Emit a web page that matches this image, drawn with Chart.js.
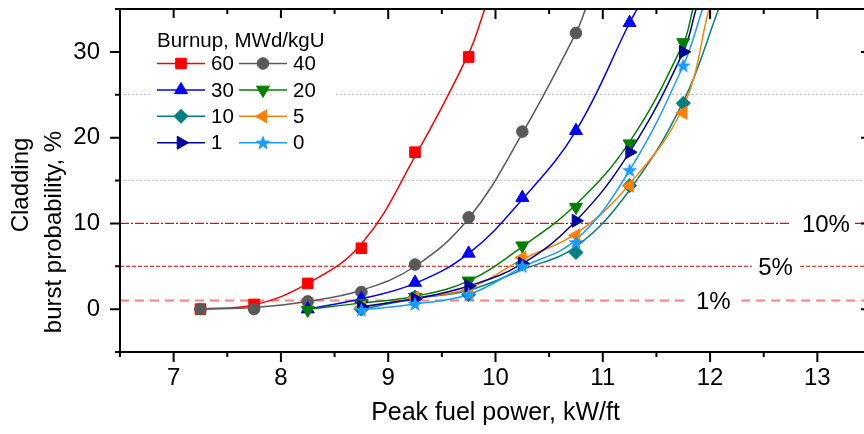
<!DOCTYPE html>
<html lang="en">
<head>
<meta charset="UTF-8">
<title>Cladding burst probability</title>
<script src="https://cdn.jsdelivr.net/npm/chart.js"></script>
<style>
  html, body { margin: 0; padding: 0; overflow: hidden; background: #fff; }
  canvas { display: block; }
</style>
</head>
<body>
<canvas id="burstChart" width="880" height="434"></canvas>
<script>
// peak fuel power of the test points, kW/ft
const power = [7.25, 7.75, 8.25, 8.75, 9.25, 9.75, 10.25, 10.75, 11.25, 11.75];

// burst probability, %, one list per burnup (MWd/kgU)
const bu60 = [0, 0.55, 3.0, 7.1, 18.3, 29.4, null, null, null, null];
const bu40 = [0, 0, 0.9, 2.0, 5.2, 10.7, 20.7, 32.2, null, null];
const bu30 = [null, null, 0, 1.2, 3.1, 6.5, 13.0, 20.8, 33.4, null];
const bu20 = [null, null, -0.1, 0.7, 1.4, 3.3, 7.4, 11.9, 19.3, 31.1];
const bu10 = [null, null, null, 0, 1.4, 1.7, 5.3, 6.6, 14.4, 24.0];
const bu5  = [null, null, null, 0.2, 1.3, 2.2, 6.0, 8.6, 14.4, 22.9];
const bu1  = [null, null, null, 0.3, 1.2, 2.7, 5.3, 10.3, 18.3, 30.0];
const bu0  = [null, null, null, -0.1, 0.6, 1.7, 5.0, 7.8, 16.2, 28.4];

// fitted curves (last point = where it leaves the top)
const fit60x = [7.25, 7.75, 8.25, 8.75, 9.25, 9.75, 9.9];
const fit60y = [0, 0.5, 3.0, 7.6, 17.8, 29.8, 35];
const fit40x = [7.25, 7.75, 8.25, 8.75, 9.25, 9.75, 10.25, 10.75, 10.84];
const fit40y = [0, 0.2, 0.9, 2.2, 5.0, 10.6, 20.5, 32.2, 35];
const fit30x = [8.25, 8.75, 9.25, 9.75, 10.25, 10.75, 11.25, 11.32];
const fit30y = [0, 1.2, 3.0, 6.5, 12.8, 20.8, 33.4, 35];
const fit20x = [8.25, 8.75, 9.25, 9.75, 10.25, 10.75, 11.25, 11.75, 11.84];
const fit20y = [0, 0.7, 1.5, 3.3, 7.3, 12.2, 19.5, 31.0, 35];
const fit10x = [8.75, 9.25, 9.75, 10.25, 10.75, 11.25, 11.75, 12.08];
const fit10y = [0, 1.2, 2.2, 4.6, 7.3, 13.9, 24.2, 35];
const fit5x  = [8.75, 9.25, 9.75, 10.25, 10.75, 11.25, 11.75, 11.99];
const fit5y  = [0.2, 1.3, 2.4, 5.8, 8.8, 14.6, 23.6, 35];
const fit1x  = [8.75, 9.25, 9.75, 10.25, 10.75, 11.25, 11.75, 11.87];
const fit1y  = [0.3, 1.2, 2.7, 5.3, 10.3, 18.3, 30.0, 35];
const fit0x  = [8.75, 9.25, 9.75, 10.25, 10.75, 11.25, 11.75, 11.93];
const fit0y  = [-0.1, 0.6, 1.7, 4.9, 8.1, 16.2, 28.4, 35];

// probability levels and where each line is broken for its label
const refLevels = [1, 5, 10];
const refLabels = ['1%', '5%', '10%'];
const refGapFrom = [11.81, 12.39, 12.75];
const refGapTo = [12.29, 12.84, 13.35];
const refLabelX = [12.03, 12.61, 13.08];

const xTickLabels = [7, 8, 9, 10, 11, 12, 13];
const yTickLabels = [0, 10, 20, 30];

const FONT = 'Arial, "Liberation Sans", sans-serif';
Chart.defaults.font.family = FONT;
Chart.defaults.color = '#000';

// filled five point star for the 0 MWd/kgU series
function makeStar(color, size) {
    const c = document.createElement('canvas');
    c.width = size; c.height = size;
    const g = c.getContext('2d');
    const R = size / 2, r = R * 0.42;
    g.fillStyle = color;
    g.beginPath();
    for (let i = 0; i < 10; i++) {
        const a = -Math.PI / 2 + i * Math.PI / 5;
        const rr = i % 2 ? r : R;
        g.lineTo(R + rr * Math.cos(a), R + rr * Math.sin(a) + 0.5);
    }
    g.closePath();
    g.fill();
    return c;
}

const series = [
    { name: '60', pts: bu60, fx: fit60x, fy: fit60y, color: '#ff0000', style: 'rect', rot: 0, r: 7.5 },
    { name: '40', pts: bu40, fx: fit40x, fy: fit40y, color: '#595959', style: 'circle', rot: 0, r: 5.8 },
    { name: '30', pts: bu30, fx: fit30x, fy: fit30y, color: '#0000ff', style: 'triangle', rot: 0, r: 7.5 },
    { name: '20', pts: bu20, fx: fit20x, fy: fit20y, color: '#008000', style: 'triangle', rot: 180, r: 7.5 },
    { name: '10', pts: bu10, fx: fit10x, fy: fit10y, color: '#008080', style: 'rectRot', rot: 0, r: 7 },
    { name: '5',  pts: bu5,  fx: fit5x,  fy: fit5y,  color: '#ff8000', style: 'triangle', rot: -90, r: 7.5 },
    { name: '1',  pts: bu1,  fx: fit1x,  fy: fit1y,  color: '#00009c', style: 'triangle', rot: 90, r: 7.5 },
    { name: '0',  pts: bu0,  fx: fit0x,  fy: fit0y,  color: '#1a9cff', style: makeStar('#1a9cff', 16), rot: 0, r: 8 }
];

const refStyle = [
    { color: '#ff8080', width: 2, dash: [9, 6] },
    { color: '#e00000', width: 1, dash: [4, 2] },
    { color: '#ff0000', width: 1.2, dash: [9, 2, 2, 2] }
];

const datasets = [];

// markers first in the list => drawn on top (low order)
series.forEach((s, i) => {
    datasets.push({
        label: s.name,
        data: power.map((p, k) => ({ x: p, y: s.pts[k] })).filter(d => d.y !== null),
        showLine: false,
        pointStyle: s.style,
        pointRotation: s.rot,
        pointRadius: s.r,
        pointHoverRadius: s.r,
        backgroundColor: s.color,
        borderColor: s.color,
        pointBorderWidth: 1,
        order: series.length - i
    });
});

series.forEach((s, i) => {
    datasets.push({
        label: 'fit ' + s.name,
        data: s.fx.map((v, k) => ({ x: v, y: s.fy[k] })),
        borderColor: s.color,
        borderWidth: 1.5,
        pointRadius: 0,
        tension: 0.4,
        fill: false,
        order: 20 + series.length - i
    });
});

refLevels.forEach((lvl, i) => {
    datasets.push({
        label: refLabels[i],
        data: [
            { x: 6.5, y: lvl },
            { x: refGapFrom[i], y: lvl },
            { x: (refGapFrom[i] + refGapTo[i]) / 2, y: null },
            { x: refGapTo[i], y: lvl },
            { x: 13.5, y: lvl }
        ],
        borderColor: refStyle[i].color,
        borderWidth: refStyle[i].width,
        borderDash: refStyle[i].dash,
        pointRadius: 0,
        spanGaps: false,
        order: 40
    });
});

// box, ticks on all four sides
const frame = {
    id: 'frame',
    afterDraw(chart) {
        const { ctx, chartArea: a, scales: { x, y } } = chart;
        ctx.save();
        ctx.strokeStyle = '#000';
        ctx.lineWidth = 2;
        ctx.beginPath();
        x.ticks.forEach(t => {
            const px = x.getPixelForValue(t.value);
            const len = Number.isInteger(t.value) ? 10 : 5;
            ctx.moveTo(px, a.bottom); ctx.lineTo(px, a.bottom + len);
            ctx.moveTo(px, a.top); ctx.lineTo(px, a.top + len);
        });
        y.ticks.forEach(t => {
            const py = y.getPixelForValue(t.value);
            const len = t.value % 10 === 0 ? 10 : 5;
            ctx.moveTo(a.left, py); ctx.lineTo(a.left - len, py);
            ctx.moveTo(a.right, py); ctx.lineTo(a.right - len, py);
        });
        ctx.stroke();
        ctx.strokeRect(a.left, a.top, a.right - a.left, a.bottom - a.top);
        ctx.restore();
    }
};

// labels on the probability levels + y title on two lines
const texts = {
    id: 'texts',
    afterDatasetsDraw(chart) {
        const { ctx, scales: { x, y } } = chart;
        ctx.save();
        ctx.fillStyle = '#000';
        ctx.font = '24px ' + FONT;
        ctx.textAlign = 'center';
        ctx.textBaseline = 'middle';
        refLevels.forEach((lvl, i) => {
            ctx.fillText(refLabels[i], x.getPixelForValue(refLabelX[i]), y.getPixelForValue(lvl) + 2);
        });

        ctx.textBaseline = 'alphabetic';
        ctx.save();
        ctx.translate(28, 185);
        ctx.rotate(-Math.PI / 2);
        ctx.fillText('Cladding', 0, 0);
        ctx.restore();
        ctx.save();
        ctx.translate(61, 232);
        ctx.rotate(-Math.PI / 2);
        ctx.fillText('burst probability, %', 0, 0);
        ctx.restore();
        ctx.restore();
    }
};

// legend in two columns, drawn with the datasets' own point styles
const legendBox = {
    id: 'legendBox',
    afterDraw(chart) {
        const ctx = chart.ctx;
        const ds = chart.data.datasets;
        ctx.save();
        ctx.fillStyle = '#fff';
        ctx.fillRect(150, 18, 186, 140);
        ctx.fillStyle = '#000';
        ctx.font = '20.5px ' + FONT;
        ctx.textAlign = 'left';
        ctx.textBaseline = 'alphabetic';
        ctx.fillText('Burnup, MWd/kgU', 157, 46.5);
        series.forEach((s, i) => {
            const col = i % 2, row = Math.floor(i / 2);
            const x0 = col ? 239 : 157;
            const cy = 63.5 + row * 26.4;
            ctx.strokeStyle = s.color;
            ctx.lineWidth = 1.5;
            ctx.beginPath();
            ctx.moveTo(x0, cy); ctx.lineTo(x0 + 48, cy);
            ctx.stroke();
            ctx.fillStyle = s.color;
            ctx.lineWidth = 1;
            Chart.helpers.drawPoint(ctx, {
                pointStyle: ds[i].pointStyle,
                rotation: ds[i].pointRotation,
                radius: ds[i].pointRadius,
                borderWidth: 1
            }, x0 + 24, cy);
            ctx.fillStyle = '#000';
            ctx.textBaseline = 'middle';
            ctx.fillText(s.name, x0 + 54, cy + 1);
        });
        ctx.restore();
    }
};

// fixed axis boxes so the plot area sits where the original has it
function fixX(s) {
    s.height = 82;
    s.paddingLeft = 0; s.paddingRight = 0;
}
function fixY(s) {
    s.width = 120;
    s.paddingTop = 0; s.paddingBottom = 0;
}

new Chart(document.getElementById('burstChart'), {
    type: 'line',
    data: { datasets: datasets },
    plugins: [texts, frame, legendBox],
    options: {
        responsive: false,
        animation: false,
        events: [],
        layout: { padding: { left: 0, top: 9, right: 9, bottom: 0 } },
        plugins: { legend: { display: false }, tooltip: { enabled: false } },
        scales: {
            x: {
                type: 'linear',
                min: 6.5,
                max: 13.5,
                afterFit: fixX,
                ticks: {
                    stepSize: 0.5,
                    autoSkip: false,
                    maxRotation: 0,
                    padding: 12,
                    font: { size: 24 },
                    color: '#000',
                    callback: v => xTickLabels.includes(v) ? String(v) : ''
                },
                grid: { display: false, drawTicks: false },
                border: { display: false },
                title: {
                    display: true,
                    text: 'Peak fuel power, kW/ft',
                    font: { size: 25 },
                    color: '#000',
                    padding: { top: 0, bottom: 6 }
                }
            },
            y: {
                min: -5,
                max: 35,
                afterFit: fixY,
                ticks: {
                    stepSize: 5,
                    autoSkip: false,
                    padding: 20,
                    font: { size: 24 },
                    color: '#000',
                    callback: v => yTickLabels.includes(v) ? String(v) : ''
                },
                grid: {
                    drawTicks: false,
                    lineWidth: 1,
                    color: c => (c.tick && (c.tick.value === 15 || c.tick.value === 25)) ? '#c4c4c4' : 'rgba(0,0,0,0)'
                },
                border: { display: false, dash: [2, 2] }
            }
        }
    }
});
</script>
</body>
</html>
